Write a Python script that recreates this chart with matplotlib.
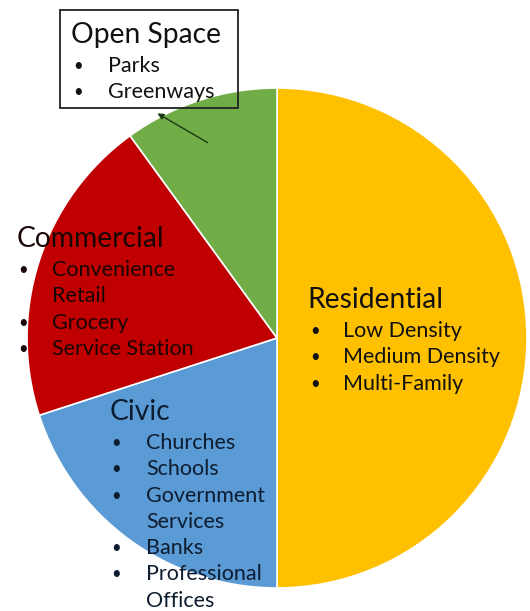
# Land use mix pie with category notes
import matplotlib.pyplot as plt
from matplotlib.patches import Rectangle

plt.rcParams['font.family'] = ['Lato', 'DejaVu Sans']

uses = ['Residential', 'Civic', 'Commercial', 'Open Space']
shares = [50, 20, 20, 10]
colors = ['#FFC000', '#5B9BD5', '#C00000', '#70AD47']

residential_items = ['Low Density', 'Medium Density', 'Multi-Family']
civic_items = ['Churches', 'Schools', 'Government\nServices', 'Banks', 'Professional\nOffices']
commercial_items = ['Convenience\nRetail', 'Grocery', 'Service Station']
open_space_items = ['Parks', 'Greenways']

W, H = 530, 611
fig = plt.figure(figsize=(W / 100, H / 100), dpi=100)
ax = fig.add_axes([0, 0, 1, 1])
ax.pie(shares, colors=colors, startangle=90, counterclock=False,
       radius=250, center=(277, H - 338),
       wedgeprops=dict(edgecolor='white', linewidth=1.2))
ax.set_xlim(0, W)
ax.set_ylim(0, H)
ax.set_aspect('equal')
ax.axis('off')

LINE = 26.3  # pixel spacing between note lines


def notes(title, items, x, y, bx, ix, color='#111111'):
    # title, then bulleted items underneath (pixel coords from top-left)
    fig.text(x / W, 1 - y / H, title, fontsize=20.3, color=color, va='center', ha='left')
    yy = y + 31
    for item in items:
        lines = item.split('\n')
        fig.text(bx / W, 1 - yy / H, '\u2022', fontsize=12, color=color, va='center', ha='left')
        for ln in lines:
            fig.text(ix / W, 1 - yy / H, ln, fontsize=15.5, color=color, va='center', ha='left')
            yy += LINE


notes('Residential', residential_items, 307, 300, 310, 343)
notes('Civic', civic_items, 110, 412, 111, 146, color='#0E1C30')
notes('Commercial', commercial_items, 17, 239, 18, 52, color='#1a0505')
notes('Open Space', open_space_items, 71, 35, 73, 108)

# outline around the open space note, with pointer into its slice
ax.add_patch(Rectangle((60, H - 108), 178, 98, facecolor='none',
                       edgecolor='#222222', linewidth=1.3, zorder=5))
ax.annotate('', xy=(155, H - 112), xytext=(210, H - 144),
            arrowprops=dict(arrowstyle='-|>', color='#1E3A14', lw=1,
                            mutation_scale=9))

fig.savefig('out.png', dpi=100)
